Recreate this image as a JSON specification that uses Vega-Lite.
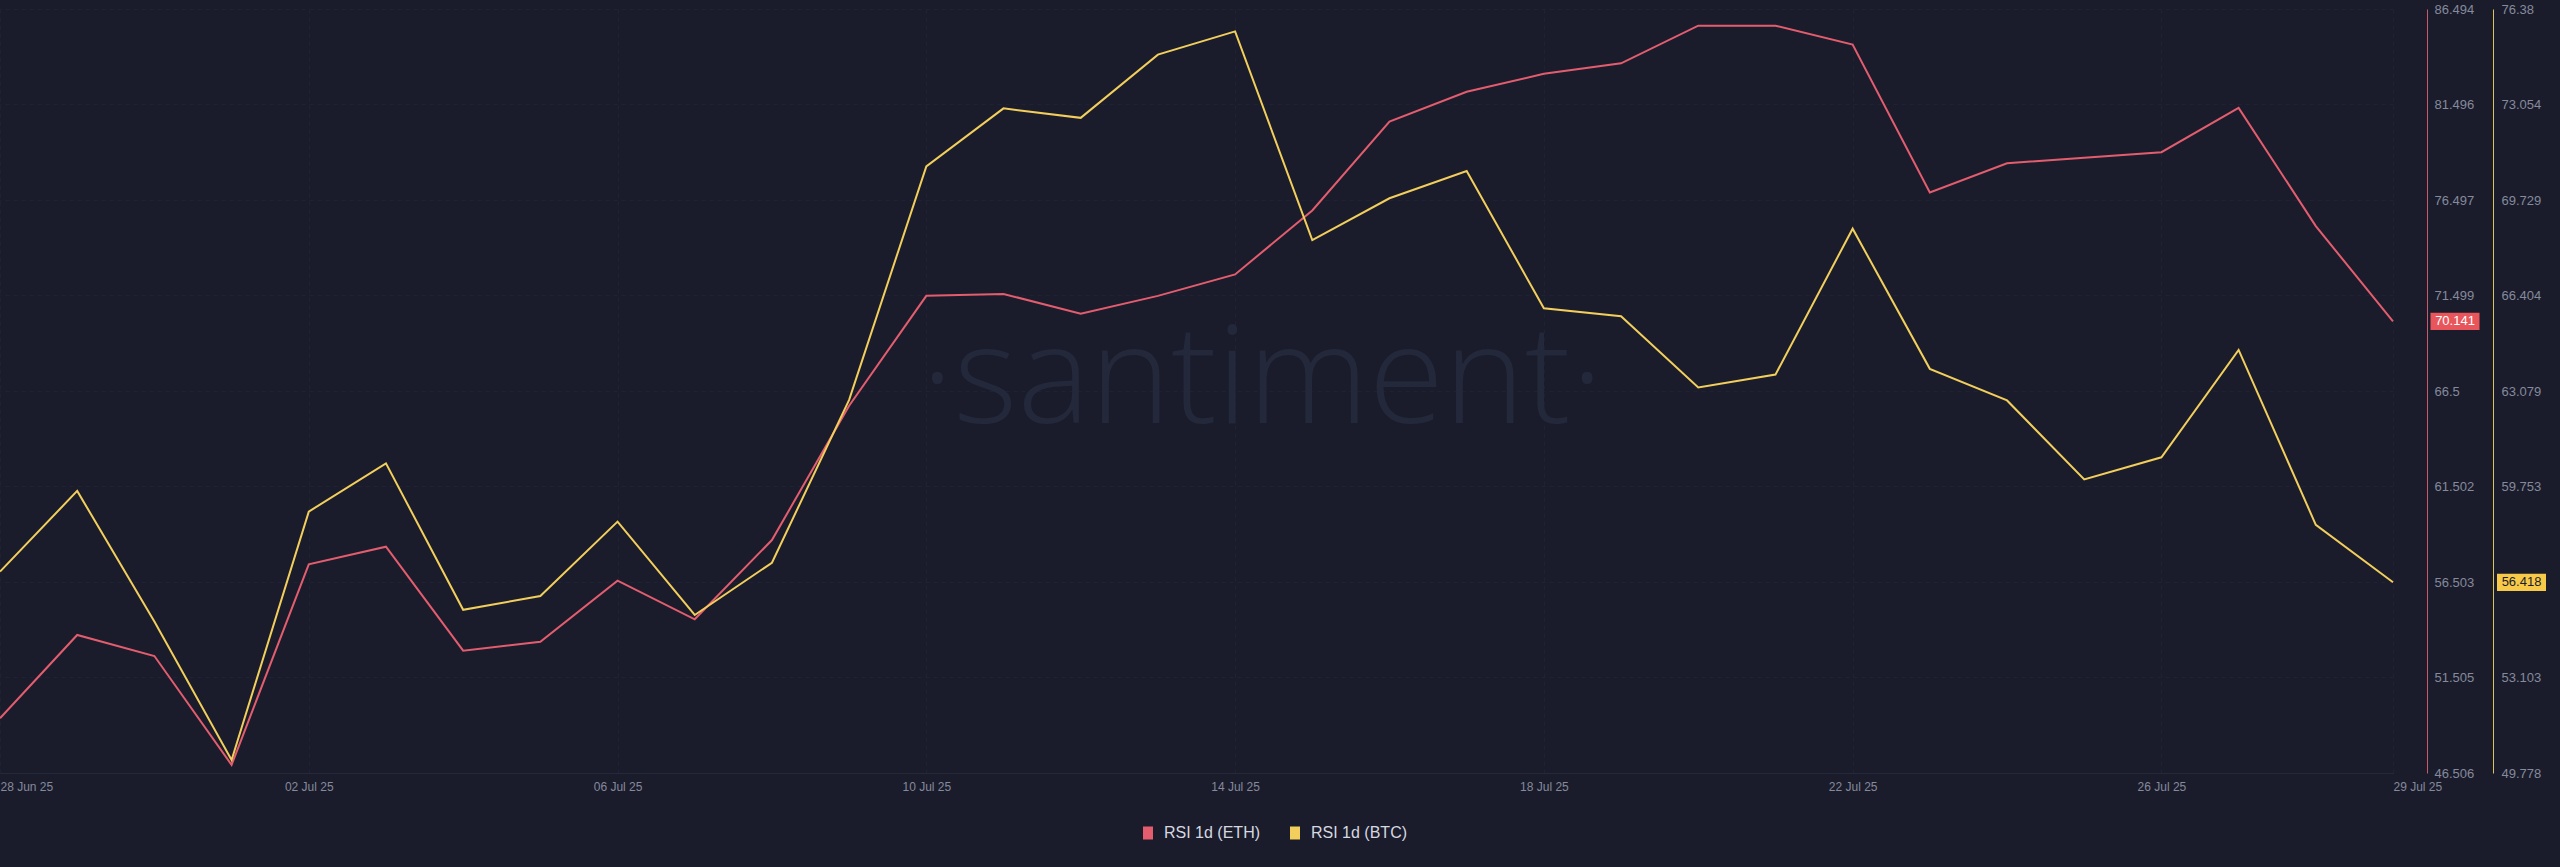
{
  "$schema": "https://vega.github.io/schema/vega-lite/v6.json",
  "width": 2393,
  "height": 764,
  "autosize": {"type": "none"},
  "padding": {"left": 0, "top": 9, "right": 167, "bottom": 94},
  "background": "#1a1c2b",
  "view": {"stroke": null},
  "config": {"font": "Liberation Sans"},
  "data": {
    "values": [
      {"date": "2025-06-28", "eth": 49.37, "btc": 56.79},
      {"date": "2025-06-29", "eth": 53.73, "btc": 59.60},
      {"date": "2025-06-30", "eth": 52.63, "btc": 55.05},
      {"date": "2025-07-01", "eth": 46.93, "btc": 50.23},
      {"date": "2025-07-02", "eth": 57.43, "btc": 58.88},
      {"date": "2025-07-03", "eth": 58.35, "btc": 60.56},
      {"date": "2025-07-04", "eth": 52.91, "btc": 55.46},
      {"date": "2025-07-05", "eth": 53.38, "btc": 55.94},
      {"date": "2025-07-06", "eth": 56.57, "btc": 58.53},
      {"date": "2025-07-07", "eth": 54.55, "btc": 55.28},
      {"date": "2025-07-08", "eth": 58.70, "btc": 57.10},
      {"date": "2025-07-09", "eth": 65.73, "btc": 62.77},
      {"date": "2025-07-10", "eth": 71.48, "btc": 70.90},
      {"date": "2025-07-11", "eth": 71.58, "btc": 72.92},
      {"date": "2025-07-12", "eth": 70.54, "btc": 72.59},
      {"date": "2025-07-13", "eth": 71.48, "btc": 74.79},
      {"date": "2025-07-14", "eth": 72.60, "btc": 75.60},
      {"date": "2025-07-15", "eth": 75.95, "btc": 68.33},
      {"date": "2025-07-16", "eth": 80.60, "btc": 69.79},
      {"date": "2025-07-17", "eth": 82.16, "btc": 70.74},
      {"date": "2025-07-18", "eth": 83.10, "btc": 65.96},
      {"date": "2025-07-19", "eth": 83.65, "btc": 65.68},
      {"date": "2025-07-20", "eth": 85.62, "btc": 63.20},
      {"date": "2025-07-21", "eth": 85.62, "btc": 63.65},
      {"date": "2025-07-22", "eth": 84.63, "btc": 68.73},
      {"date": "2025-07-23", "eth": 76.89, "btc": 63.85},
      {"date": "2025-07-24", "eth": 78.42, "btc": 62.75},
      {"date": "2025-07-25", "eth": 78.71, "btc": 60.00},
      {"date": "2025-07-26", "eth": 79.00, "btc": 60.77},
      {"date": "2025-07-27", "eth": 81.32, "btc": 64.51},
      {"date": "2025-07-28", "eth": 75.13, "btc": 58.42},
      {"date": "2025-07-29", "eth": 70.141, "btc": 56.418}
    ]
  },
  "layer": [
    {
      "data": {"values": [{"label": "·santiment·"}]},
      "mark": {"type": "text", "font": "Open Sans", "fontWeight": 300, "fontSize": 137, "color": "#23283a", "align": "center", "baseline": "alphabetic"},
      "encoding": {
        "x": {"datum": 1752481440000, "type": "temporal", "scale": {"type": "utc"}},
        "y": {"datum": 64.83, "type": "quantitative", "scale": {"domain": [46.506, 86.494], "nice": false, "zero": false}, "axis": null},
        "text": {"field": "label", "type": "nominal"}
      }
    },
    {
      "encoding": {
        "x": {
          "field": "date",
          "type": "temporal",
          "scale": {"type": "utc", "domain": [{"year": 2025, "month": 6, "date": 28, "utc": true}, {"year": 2025, "month": 7, "date": 29, "utc": true}]},
          "axis": {
            "title": null,
            "format": "%d %b %y",
            "values": [
              {"year": 2025, "month": 6, "date": 28, "utc": true},
              {"year": 2025, "month": 7, "date": 2, "utc": true},
              {"year": 2025, "month": 7, "date": 6, "utc": true},
              {"year": 2025, "month": 7, "date": 10, "utc": true},
              {"year": 2025, "month": 7, "date": 14, "utc": true},
              {"year": 2025, "month": 7, "date": 18, "utc": true},
              {"year": 2025, "month": 7, "date": 22, "utc": true},
              {"year": 2025, "month": 7, "date": 26, "utc": true},
              {"year": 2025, "month": 7, "date": 29, "utc": true}
            ],
            "labelColor": "#858a9c",
            "labelFontSize": 12,
            "labelPadding": 8,
            "ticks": false,
            "domainColor": "#252939",
            "grid": true,
            "gridColor": "#1f2232",
            "gridDash": [4, 4],
            "labelFlush": false,
            "labelOverlap": false,
            "labelAlign": {"condition": {"test": "datum.index == 0 || datum.index == 1", "value": "left"}, "value": "center"}
          }
        },
        "y": {
          "field": "eth",
          "type": "quantitative",
          "scale": {"domain": [46.506, 86.494], "nice": false, "zero": false},
          "axis": {
            "title": null,
            "orient": "right",
            "offset": 34,
            "values": [46.506, 51.505, 56.503, 61.502, 66.5, 71.499, 76.497, 81.496, 86.494],
            "format": ".6~r",
            "labelColor": "#858a9c",
            "labelFontSize": 13,
            "labelPadding": 7,
            "labelFlush": false,
            "labelOverlap": false,
            "ticks": false,
            "domainColor": "#c95a6c",
            "grid": true,
            "gridColor": "#1f2232",
            "gridDash": [4, 4]
          }
        }
      },
      "layer": [
        {
          "mark": {"type": "line", "strokeWidth": 2},
          "encoding": {
            "color": {
              "datum": "RSI 1d (ETH)",
              "type": "nominal",
              "scale": {"domain": ["RSI 1d (ETH)", "RSI 1d (BTC)"], "range": ["#e35d6f", "#f2ce5c"]},
              "legend": {
                "title": null,
                "orient": "none",
                "legendX": 1140,
                "legendY": 816,
                "direction": "horizontal",
                "symbolType": "M-0.77,-1L0.77,-1L0.77,1L-0.77,1Z",
                "symbolSize": 169,
                "symbolStrokeWidth": 0,
                "labelFontSize": 16,
                "labelColor": "#d6d8e0",
                "labelOffset": 8,
                "columnPadding": 26,
                "encode": {"symbols": {"update": {"fill": {"scale": "color", "field": "value"}, "fillOpacity": {"value": 1}}}}
              }
            }
          }
        },
        {
          "transform": [{"filter": {"field": "date", "equal": {"year": 2025, "month": 7, "date": 29, "utc": true}}}],
          "mark": {"type": "point", "shape": "M-1,-0.354L1,-0.354L1,0.354L-1,0.354Z", "size": 2401, "filled": true, "opacity": 1, "color": "#e8565c", "strokeWidth": 0, "xOffset": 62}
        },
        {
          "transform": [{"filter": {"field": "date", "equal": {"year": 2025, "month": 7, "date": 29, "utc": true}}}],
          "mark": {"type": "text", "xOffset": 62, "color": "#ffffff", "fontSize": 13, "align": "center", "baseline": "middle"},
          "encoding": {"text": {"field": "eth", "type": "quantitative", "format": ".3f"}}
        }
      ]
    },
    {
      "encoding": {
        "x": {"field": "date", "type": "temporal", "scale": {"type": "utc"}},
        "y": {
          "field": "btc",
          "type": "quantitative",
          "scale": {"domain": [49.778, 76.38], "nice": false, "zero": false},
          "axis": {
            "title": null,
            "orient": "right",
            "offset": 100,
            "values": [49.778, 53.103, 59.753, 63.079, 66.404, 69.729, 73.054, 76.38],
            "format": ".6~r",
            "labelColor": "#858a9c",
            "labelFontSize": 13,
            "labelPadding": 8,
            "labelFlush": false,
            "labelOverlap": false,
            "ticks": false,
            "domainColor": "#d9c35f",
            "grid": false
          }
        }
      },
      "layer": [
        {
          "mark": {"type": "line", "strokeWidth": 2},
          "encoding": {"color": {"datum": "RSI 1d (BTC)", "type": "nominal"}}
        },
        {
          "transform": [{"filter": {"field": "date", "equal": {"year": 2025, "month": 7, "date": 29, "utc": true}}}],
          "mark": {"type": "point", "shape": "M-1,-0.354L1,-0.354L1,0.354L-1,0.354Z", "size": 2401, "filled": true, "opacity": 1, "color": "#f7c948", "strokeWidth": 0, "xOffset": 128.5}
        },
        {
          "transform": [{"filter": {"field": "date", "equal": {"year": 2025, "month": 7, "date": 29, "utc": true}}}],
          "mark": {"type": "text", "xOffset": 128.5, "color": "#1a1c2b", "fontSize": 13, "align": "center", "baseline": "middle"},
          "encoding": {"text": {"field": "btc", "type": "quantitative", "format": ".3f"}}
        }
      ]
    }
  ],
  "resolve": {"scale": {"y": "independent"}}
}
